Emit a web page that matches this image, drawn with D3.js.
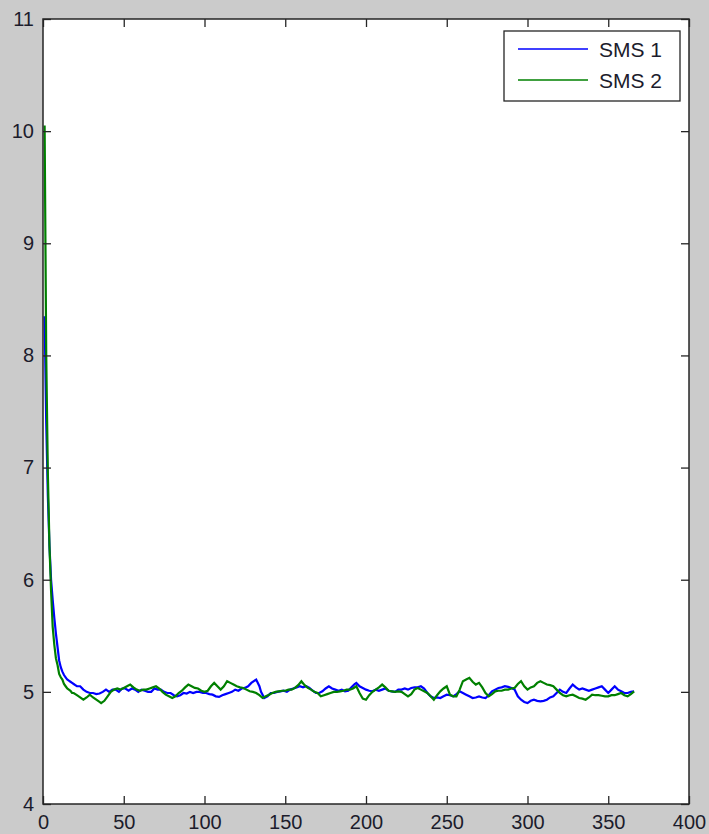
<!DOCTYPE html>
<html>
<head>
<meta charset="utf-8">
<script src="https://cdn.jsdelivr.net/npm/d3@7"></script>
<style>
  html, body { margin: 0; padding: 0; background: #cbcbcb; }
  svg { display: block; }
  text { font-family: "Liberation Sans", Arial, sans-serif; }
</style>
</head>
<body>
<svg id="chart" width="709" height="834"></svg>
<script>
// ---- data ----
const seriesNames = ["SMS 1", "SMS 2"];
const xTicks = [0, 50, 100, 150, 200, 250, 300, 350, 400];
const yTicks = [4, 5, 6, 7, 8, 9, 10, 11];

const sms1Days = [1,2,3,4,5,6,7,8,9,10,11,12,13,14,15,16,17,18,19,20,21,23,25,27,29,31,33,35,37,39,41,43,45,47,49,51,53,55,57,59,61,63,65,67,69,71,73,75,77,79,81,83,85,87,89,91,93,95,97,99,101,103,105,107,109,111,113,115,117,119,121,123,125,127,129,131,132,134,135,137,139,141,143,145,147,149,151,153,155,157,159,161,163,165,167,169,171,173,175,177,179,181,183,185,187,189,191,193,194,196,198,200,202,204,206,208,210,212,214,216,218,220,222,224,226,228,230,232,234,236,238,240,242,244,246,248,250,252,254,256,258,260,262,264,266,268,270,272,274,276,278,280,282,284,286,288,290,292,294,296,298,300,302,304,306,308,310,312,314,316,318,320,322,324,326,328,330,332,334,336,338,340,342,344,346,348,350,352,354,356,358,360,362,364,366];
const sms1Values = [8.35,7.40,6.75,6.30,6.00,5.82,5.66,5.52,5.40,5.28,5.22,5.18,5.15,5.13,5.11,5.10,5.09,5.08,5.07,5.06,5.05,5.05,5.02,5.00,4.99,4.99,4.98,4.985,5.00,5.02,5.00,5.02,5.02,5.00,5.03,5.03,5.01,5.03,5.02,5.00,5.02,5.01,5.00,5.00,5.03,5.02,5.02,5.00,4.99,4.99,4.97,4.96,4.97,4.99,4.985,5.00,4.99,5.00,5.00,4.99,4.99,4.98,4.975,4.96,4.955,4.97,4.98,4.99,5.00,5.02,5.01,5.03,5.035,5.05,5.08,5.10,5.11,5.05,5.00,4.945,4.96,4.99,4.99,5.00,5.005,5.01,5.00,5.02,5.03,5.04,5.05,5.04,5.05,5.035,5.01,4.99,4.99,5.005,5.03,5.05,5.03,5.02,5.01,5.02,5.005,5.01,5.04,5.07,5.08,5.05,5.035,5.02,5.01,5.005,5.02,5.01,5.02,5.03,5.01,5.005,5.00,5.02,5.02,5.03,5.02,5.035,5.04,5.04,5.05,5.03,4.99,4.96,4.945,4.95,4.945,4.96,4.975,4.97,4.96,4.98,5.005,4.99,4.975,4.96,4.945,4.95,4.96,4.95,4.945,4.97,5.005,5.02,5.035,5.04,5.05,5.045,5.035,5.02,4.96,4.93,4.91,4.90,4.92,4.93,4.92,4.915,4.92,4.93,4.95,4.96,4.99,5.02,5.00,4.99,5.03,5.065,5.04,5.02,5.03,5.02,5.01,5.02,5.03,5.04,5.05,5.02,4.99,5.02,5.05,5.02,5.005,4.99,4.99,5.00,5.005];

const sms2Days = [1,2,3,4,5,6,7,8,9,10,11,12,13,14,15,16,17,18,19,20,21,23,25,27,29,31,33,35,36,38,40,42,44,46,48,50,52,54,56,58,60,62,64,66,68,70,72,74,76,78,80,82,84,86,88,90,92,94,96,98,100,102,104,106,108,110,112,114,116,118,120,122,124,126,128,130,132,134,136,138,140,142,144,146,148,150,152,154,156,158,160,162,164,166,168,170,172,174,176,178,180,182,184,186,188,190,192,194,196,198,200,202,204,206,208,210,212,214,216,218,220,222,224,226,228,230,232,234,236,238,240,242,244,246,248,250,252,254,256,258,260,262,264,266,268,270,272,274,276,278,280,282,284,286,288,290,292,294,296,298,300,302,304,306,308,310,312,314,316,318,320,322,324,326,328,330,332,334,336,338,340,342,344,346,348,350,352,354,356,358,360,362,364,366];
const sms2Values = [10.05,8.00,6.95,6.30,5.90,5.58,5.42,5.30,5.24,5.16,5.13,5.11,5.07,5.05,5.03,5.02,5.01,4.99,4.99,4.98,4.97,4.95,4.93,4.95,4.975,4.95,4.93,4.91,4.90,4.92,4.96,5.00,5.02,5.03,5.02,5.035,5.05,5.065,5.04,5.02,5.01,5.02,5.02,5.03,5.04,5.05,5.03,5.00,4.975,4.96,4.945,4.96,4.99,5.01,5.04,5.065,5.05,5.035,5.03,5.01,5.00,5.01,5.05,5.08,5.05,5.02,5.05,5.095,5.08,5.065,5.05,5.04,5.035,5.02,5.005,5.00,4.99,4.97,4.945,4.96,4.975,4.99,5.00,5.005,5.01,5.01,5.02,5.02,5.035,5.06,5.095,5.06,5.035,5.02,5.00,4.99,4.96,4.97,4.98,4.99,5.00,5.00,5.005,5.01,5.02,5.02,5.03,5.05,4.99,4.94,4.93,4.97,5.00,5.02,5.04,5.065,5.04,5.01,5.005,5.00,5.005,5.00,4.98,4.96,4.98,5.02,5.035,5.02,5.005,4.99,4.96,4.93,4.97,5.005,5.03,5.05,4.975,4.96,4.96,5.02,5.095,5.11,5.125,5.09,5.065,5.08,5.04,4.99,4.96,4.98,5.005,5.01,5.01,5.02,5.02,5.03,5.035,5.07,5.095,5.05,5.02,5.04,5.05,5.08,5.095,5.08,5.065,5.06,5.05,5.02,4.99,4.97,4.96,4.97,4.975,4.96,4.945,4.94,4.93,4.95,4.975,4.97,4.97,4.965,4.96,4.96,4.97,4.97,4.98,4.99,4.97,4.96,4.98,5.005];

const seriesColors = ["#0000ff", "#008000"];

// ---- layout ----
const svg = d3.select("#chart");
const pL = 43, pR = 689, pT = 19, pB = 804;

const x = d3.scaleLinear().domain([0, 400]).range([pL, pR]);
const y = d3.scaleLinear().domain([4, 11]).range([pB, pT]);

// plot background
svg.append("rect")
  .attr("x", pL).attr("y", pT)
  .attr("width", pR - pL).attr("height", pB - pT)
  .attr("fill", "#ffffff");

svg.append("clipPath").attr("id", "clip")
  .append("rect").attr("x", pL).attr("y", pT)
  .attr("width", pR - pL).attr("height", pB - pT);

const line = d3.line()
  .defined(d => d[1] != null && !isNaN(d[1]))
  .x(d => x(d[0])).y(d => y(d[1]));

const series = [
  sms1Days.map((d, i) => [d, sms1Values[i]]),
  sms2Days.map((d, i) => [d, sms2Values[i]])
];

series.forEach((s, i) => {
  svg.append("path")
    .datum(s)
    .attr("clip-path", "url(#clip)")
    .attr("fill", "none")
    .attr("stroke", seriesColors[i])
    .attr("stroke-width", 2.2)
    .attr("stroke-linejoin", "miter")
    .attr("d", line);
});

// axes with inward ticks
const tickLen = 8;
const axisColor = "#262626";
const labelColor = "#1c1c2c";
const fmt = d3.format("d");

const gB = svg.append("g").attr("transform", `translate(0,${pB})`)
  .call(d3.axisBottom(x).tickValues(xTicks).tickFormat(fmt).tickSizeInner(-tickLen).tickSizeOuter(0).tickPadding(11));
const gT = svg.append("g").attr("transform", `translate(0,${pT})`)
  .call(d3.axisTop(x).tickValues(xTicks).tickSizeInner(-tickLen).tickSizeOuter(0).tickFormat(""));
const gL = svg.append("g").attr("transform", `translate(${pL},0)`)
  .call(d3.axisLeft(y).tickValues(yTicks).tickFormat(fmt).tickSizeInner(-tickLen).tickSizeOuter(0).tickPadding(9));
const gR = svg.append("g").attr("transform", `translate(${pR},0)`)
  .call(d3.axisRight(y).tickValues(yTicks).tickSizeInner(-tickLen).tickSizeOuter(0).tickFormat(""));

[gB, gT, gL, gR].forEach(g => {
  g.select(".domain").remove();
  g.selectAll(".tick line").attr("stroke", axisColor).attr("stroke-width", 1.3);
  g.selectAll("text")
    .attr("fill", labelColor)
    .style("font-size", "20px")
    .style("font-family", '"Liberation Sans", Arial, sans-serif');
});

// box
svg.append("rect")
  .attr("x", pL).attr("y", pT)
  .attr("width", pR - pL).attr("height", pB - pT)
  .attr("fill", "none").attr("stroke", axisColor).attr("stroke-width", 1.5);

// legend
const lg = svg.append("g");
lg.append("rect")
  .attr("x", 504).attr("y", 31).attr("width", 176).attr("height", 70)
  .attr("fill", "#ffffff").attr("stroke", axisColor).attr("stroke-width", 1.3);
seriesNames.forEach((name, i) => {
  const ly = 49 + i * 31;
  lg.append("line")
    .attr("x1", 518).attr("x2", 588).attr("y1", ly).attr("y2", ly)
    .attr("stroke", seriesColors[i]).attr("stroke-width", 1.5);
  lg.append("text")
    .attr("x", 599).attr("y", ly).attr("dy", "0.36em")
    .attr("fill", labelColor)
    .style("font-size", "21px")
    .text(name);
});
</script>
</body>
</html>
